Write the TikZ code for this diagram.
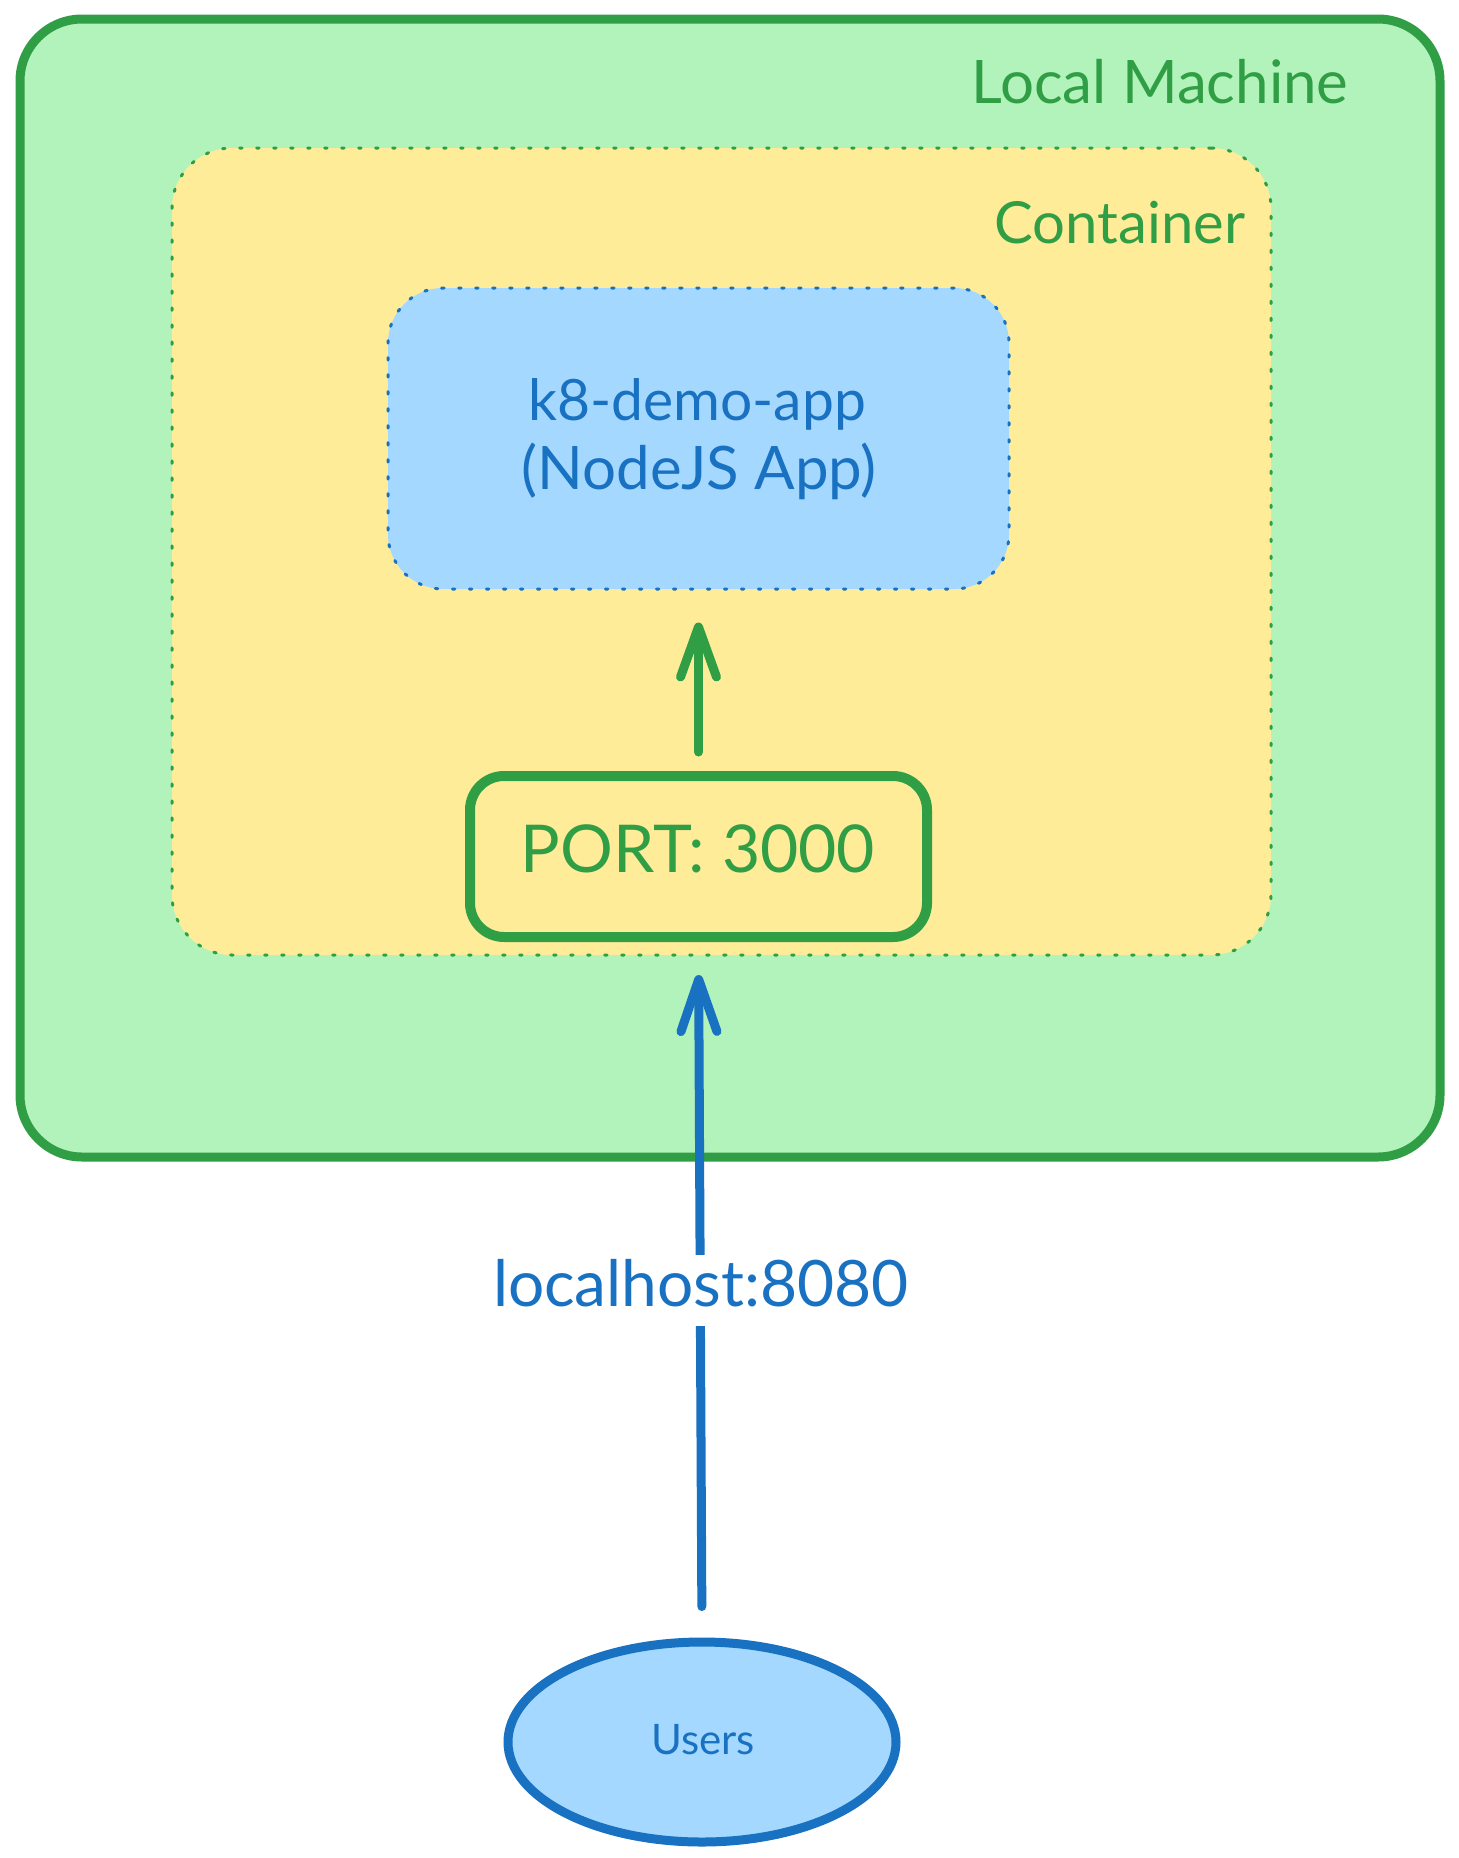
\documentclass[tikz,border=0pt]{standalone}
\usepackage{fontspec}
\setmainfont{Lato}
\usetikzlibrary{arrows.meta,shapes.geometric}
\definecolor{gstroke}{HTML}{2F9E44}
\definecolor{gfill}{HTML}{B2F2BB}
\definecolor{yfill}{HTML}{FFEC99}
\definecolor{bfill}{HTML}{A5D8FF}
\definecolor{bstroke}{HTML}{1971C2}
\newcommand{\fsz}[1]{\fontsize{#1}{#1}\selectfont}
\begin{document}
\begin{tikzpicture}[x=1pt,y=-1pt,
  boxbase/.style={rectangle,inner sep=0pt},
  dotline/.style={line width=3pt,line cap=round,dash pattern=on 2.5pt off 14.5pt},
  lbl/.style={inner sep=0pt,anchor=base},
  garrow/.style={draw=gstroke,line width=9pt,line cap=round,-{Straight Barb[length=50pt,width=36pt,round]}},
  barrow/.style={draw=bstroke,line width=9pt,line cap=round,-{Straight Barb[length=52pt,width=36pt,round]}}
]
\useasboundingbox (0,0) rectangle (1459,1858);
\fill[white] (0,0) rectangle (1459,1858);

% outer box
\node[boxbase,draw=gstroke,fill=gfill,line width=9pt,rounded corners=62pt,
  minimum width=1420pt,minimum height=1138pt] (outer) at (730,588) {};
\node[lbl,text=gstroke,font=\fsz{60}] (outertxt) at (1160,103) {Local Machine};

% container
\node[boxbase,fill=yfill,draw=gstroke,dotline,rounded corners=60pt,
  minimum width=1099pt,minimum height=807pt] (container) at (721.5,551.5) {};
\node[lbl,text=gstroke,font=\fsz{58}] (conttxt) at (1120,243) {Container};

% app box
\node[boxbase,fill=bfill,draw=bstroke,dotline,rounded corners=55pt,
  minimum width=621pt,minimum height=301pt] (app) at (698.5,438.5) {};
\node[lbl,text=bstroke,font=\fsz{57}] (apptxt1) at (697,420) {k8-demo-app};
\node[lbl,text=bstroke,font=\fsz{60}] (apptxt2) at (699,489) {(NodeJS App)};

% port box
\node[boxbase,draw=gstroke,line width=10pt,rounded corners=34pt,
  minimum width=457pt,minimum height=161pt] (port) at (698.5,856.5) {};
\node[lbl,text=gstroke,font=\fsz{66}] (porttxt) at (698,872) {PORT: 3000};

% users
\node[ellipse,draw=bstroke,fill=bfill,line width=9pt,inner sep=0pt,
  minimum width=388pt,minimum height=200pt] (users) at (702,1742) {};
\node[lbl,text=bstroke,font=\fsz{42}] (userstxt) at (703,1754) {Users};

% arrows
\draw[garrow,shorten <=19pt,shorten >=32pt] (port.north) -- (app.south);
\draw[barrow,shorten <=31pt,shorten >=33pt] (users.north) -- (port.south);

% arrow label
\node[anchor=base,fill=white,inner xsep=6pt,inner ysep=0pt,text height=51pt,text depth=20pt,
  text=bstroke,font=\fsz{64}] (hostlbl) at (701,1306) {localhost:8080};
\end{tikzpicture}
\end{document}
